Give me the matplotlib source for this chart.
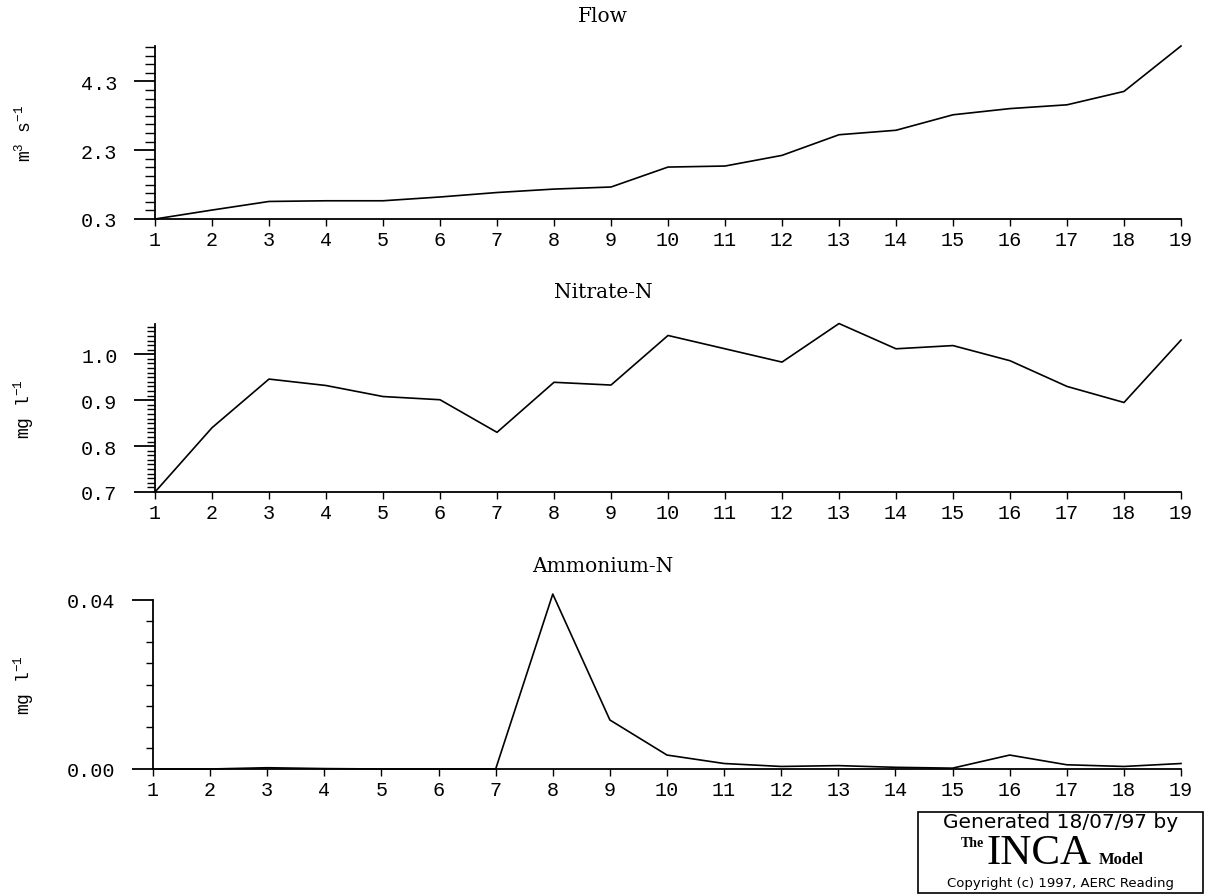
import numpy as np
import matplotlib
matplotlib.use("Agg")
import matplotlib.pyplot as plt
from matplotlib.patches import Rectangle

plt.rcParams['font.family'] = ['Liberation Mono', 'DejaVu Sans Mono']
plt.rcParams['mathtext.fontset'] = 'custom'
plt.rcParams['mathtext.rm'] = 'Liberation Mono'
plt.rcParams['mathtext.it'] = 'Liberation Mono'

# tramos del río (eje x)
reach = np.arange(1, 20)
# caudal m3/s
flow = [0.30, 0.56, 0.81, 0.83, 0.83, 0.94, 1.07, 1.17, 1.23, 1.81,
        1.84, 2.15, 2.75, 2.88, 3.33, 3.51, 3.62, 4.01, 5.33]
# nitrato mg/l
nitrate = [0.700, 0.840, 0.946, 0.932, 0.908, 0.901, 0.830, 0.939, 0.933, 1.041,
           1.012, 0.983, 1.067, 1.012, 1.019, 0.986, 0.930, 0.895, 1.031]
# amonio mg/l
ammonium = [0.0, 0.0, 0.0003, 0.0001, 0.0, 0.0, 0.0, 0.0414, 0.0116, 0.0033,
            0.0013, 0.0006, 0.0008, 0.0004, 0.0002, 0.0033, 0.0010, 0.0006, 0.0013]

W, H = 1206, 895
fig = plt.figure(figsize=(W / 100, H / 100), dpi=100)


def make_axes(left, right, top, bottom):
    # coordenadas en pixeles -> fracciones de figura
    return fig.add_axes([left / W, 1 - bottom / H, (right - left) / W, (bottom - top) / H])


def panel(box, data, title, title_y, ylabel, yticks, ylabels, minor_step, ylim, minor_len):
    left, right, top, bottom = box
    ax = make_axes(*box)
    ax.plot(reach, data, color='black', lw=1.2, clip_on=False)
    ax.set_xlim(1, 19)
    ax.set_ylim(*ylim)
    ax.set_xticks(reach)
    ax.set_yticks(yticks)
    ax.set_yticklabels(ylabels)
    ax.set_yticks(np.arange(ylim[0], ylim[1] + 1e-9, minor_step), minor=True)
    for s in ['top', 'right']:
        ax.spines[s].set_visible(False)
    for s in ['left', 'bottom']:
        ax.spines[s].set_linewidth(1.3)
    ax.tick_params(axis='y', which='major', length=15, width=1.3, labelsize=14.5, pad=12)
    ax.tick_params(axis='y', which='minor', length=minor_len, width=1.0)
    ax.tick_params(axis='x', which='major', length=5, width=1.0, labelsize=14.5, pad=3)
    # etiqueta del eje y centrada en x = 24 px
    ax.set_ylabel(ylabel, fontsize=13, va='center')
    ax.yaxis.set_label_coords((24 - left) / (right - left), 0.5)
    # título centrado en la figura
    fig.text(0.5, 1 - title_y / H, title, ha='center', va='center', fontsize=14.5,
             family=['DejaVu Serif'])
    return ax


panel((155, 1181, 47, 220), flow, 'Flow', 16, r'm$^{3}$ s$^{-1}$',
      [0.3, 2.3, 4.3], ['0.3', '2.3', '4.3'], 0.25, (0.3, max(flow)), 7)
panel((155, 1181, 325, 493), nitrate, 'Nitrate-N', 293, r'mg l$^{-1}$',
      [0.7, 0.8, 0.9, 1.0], ['0.7', '0.8', '0.9', '1.0'], 0.01, (0.7, 1.066), 6)
panel((153, 1181, 601, 770), ammonium, 'Ammonium-N', 566, r'mg l$^{-1}$',
      [0.0, 0.04], ['0.00', '0.04'], 0.005, (0.0, 0.04), 5)

# recuadro del modelo
bx0, by0, bx1, by1 = 918, 813, 1203, 894
fig.patches.append(Rectangle((bx0 / W, 1 - by1 / H), (bx1 - bx0) / W, (by1 - by0) / H,
                             transform=fig.transFigure, fill=False, ec='black', lw=1.2))
fig.text((bx0 + bx1) / 2 / W, 1 - 823 / H, 'Generated 18/07/97 by', ha='center', va='center',
         fontsize=14.5, family=['DejaVu Sans'])
fig.text(984 / W, 1 - 847 / H, 'The', ha='right', va='baseline', fontsize=10,
         family=['Liberation Serif'], weight='bold')
fig.text(987 / W, 1 - 864 / H, 'INCA', ha='left', va='baseline', fontsize=31,
         family=['Liberation Serif'])
fig.text(1099 / W, 1 - 864 / H, 'Model', ha='left', va='baseline', fontsize=12,
         family=['Liberation Serif'], weight='bold')
fig.text((bx0 + bx1) / 2 / W, 1 - 884 / H, 'Copyright (c) 1997, AERC Reading', ha='center',
         va='center', fontsize=9.5, family=['DejaVu Sans'])

fig.savefig('out.png', dpi=100)
